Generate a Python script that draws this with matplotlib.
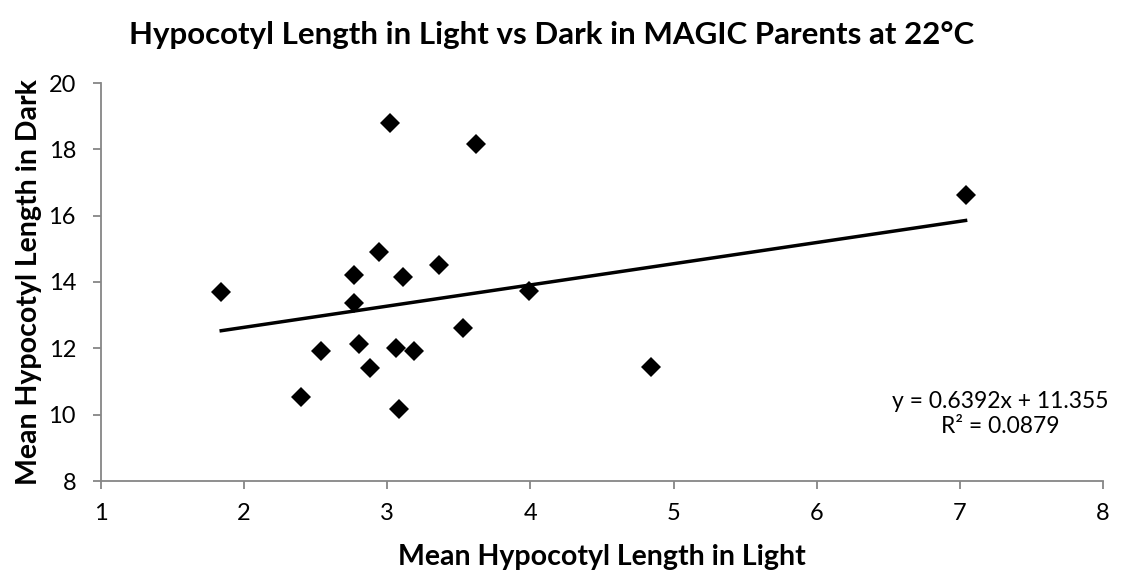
import numpy as np
import matplotlib
matplotlib.use("Agg")
import matplotlib.pyplot as plt

plt.rcParams['font.family'] = ['Lato', 'DejaVu Sans']

# mean hypocotyl length, light (x) vs dark (y)
light = [3.02, 3.62, 2.94, 2.77, 3.11, 3.36, 1.84, 2.77, 3.53, 2.54,
         2.80, 3.06, 3.19, 2.88, 2.40, 3.08, 3.99, 4.84, 7.04]
dark = [18.80, 18.15, 14.91, 14.22, 14.15, 14.52, 13.71, 13.38, 12.61, 11.93,
        12.14, 12.00, 11.93, 11.41, 10.54, 10.16, 13.74, 11.44, 16.62]

slope = 0.6392
intercept = 11.355
r2 = 0.0879

xticks = [1, 2, 3, 4, 5, 6, 7, 8]
yticks = [8, 10, 12, 14, 16, 18, 20]

fig = plt.figure(figsize=(11.25, 5.77), dpi=100)
ax = fig.add_axes([101/1125, 1 - 481/577, 1002/1125, 398/577])

ax.plot(light, dark, linestyle='none', marker='D', markersize=10,
        markeredgewidth=0, color='black', zorder=3)

# linear trendline over the data range
xfit = np.array([min(light), max(light)])
ax.plot(xfit, slope * xfit + intercept, color='black', linewidth=2.5, zorder=2)

ax.set_xlim(1, 8)
ax.set_ylim(8, 20)
ax.set_xticks(xticks)
ax.set_yticks(yticks)

grey = '#868686'
for s in ['top', 'right']:
    ax.spines[s].set_visible(False)
for s in ['left', 'bottom']:
    ax.spines[s].set_color(grey)
    ax.spines[s].set_linewidth(1.3)
ax.tick_params(axis='both', colors=grey, length=6, width=1.3, labelsize=17,
               labelcolor='black')
ax.tick_params(axis='x', pad=10)
ax.tick_params(axis='y', pad=12)

ax.set_xlabel('Mean Hypocotyl Length in Light', fontsize=20.5, fontweight='bold', labelpad=14)
ax.set_ylabel('Mean Hypocotyl Length in Dark', fontsize=20.5, fontweight='bold', labelpad=5)
fig.suptitle('Hypocotyl Length in Light vs Dark in MAGIC Parents at 22°C',
             fontsize=22.5, fontweight='bold', x=0.49, y=0.963)

ax.text(8.04, 10.02, 'y = %.4fx + %.3f\nR² = %.4f' % (slope, intercept, r2),
        ha='right', va='center', fontsize=16.5, multialignment='center',
        linespacing=1.2, clip_on=False)

fig.savefig('out.png', dpi=100)
